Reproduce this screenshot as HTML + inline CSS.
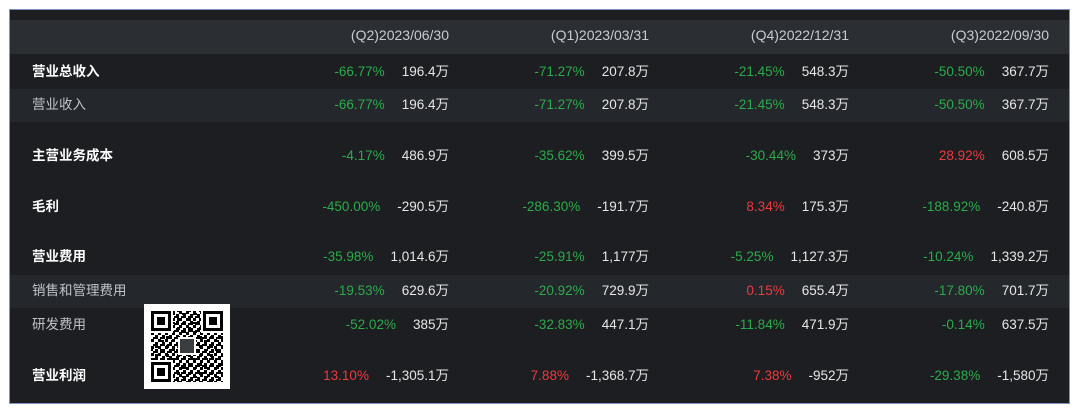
<!DOCTYPE html>
<html><head><meta charset="utf-8"><style>
body{margin:0;width:1080px;height:409px;background:#fff;position:relative;overflow:hidden;font-family:"Liberation Sans","Noto Sans CJK SC",sans-serif;font-size:13.5px}
#f{position:absolute;left:9px;top:9px;width:1059px;height:393px;background:#1c1e21;border:1px solid #7d93c4;}
.band{position:absolute;left:0;width:1059px}
.row{position:absolute;left:0;width:1059px;height:20px;line-height:20px;color:#e6e6e6}
.lab{position:absolute;left:22px;top:0}
.b{font-weight:bold;color:#fff}
.l{color:#bfc3c8}
.c{position:absolute;top:0;white-space:nowrap;display:flex;gap:17px;transform:translateX(-100%)}
.g{color:#2bab4a}.r{color:#ec3a3f}
.h{color:#c8ccd0;font-size:14px}
</style></head><body>
<div id="f">
<div class="band" style="top:10px;height:34px;background:#2b2f33"></div>
<div class="band" style="top:79px;height:33px;background:#24272b"></div>
<div class="band" style="top:265px;height:33px;background:#24272b"></div>

<div class="row h" style="top:15px"><span class="c" style="left:439px">(Q2)2023/06/30</span><span class="c" style="left:639px">(Q1)2023/03/31</span><span class="c" style="left:839px">(Q4)2022/12/31</span><span class="c" style="left:1039px">(Q3)2022/09/30</span></div>

<div class="row" style="top:52px"><span class="lab b">营业总收入</span>
<span class="c" style="left:439px"><span class="g">-66.77%</span><span>196.4万</span></span>
<span class="c" style="left:639px"><span class="g">-71.27%</span><span>207.8万</span></span>
<span class="c" style="left:839px"><span class="g">-21.45%</span><span>548.3万</span></span>
<span class="c" style="left:1039px"><span class="g">-50.50%</span><span>367.7万</span></span></div>

<div class="row" style="top:85px"><span class="lab l">营业收入</span>
<span class="c" style="left:439px"><span class="g">-66.77%</span><span>196.4万</span></span>
<span class="c" style="left:639px"><span class="g">-71.27%</span><span>207.8万</span></span>
<span class="c" style="left:839px"><span class="g">-21.45%</span><span>548.3万</span></span>
<span class="c" style="left:1039px"><span class="g">-50.50%</span><span>367.7万</span></span></div>

<div class="row" style="top:136px"><span class="lab b">主营业务成本</span>
<span class="c" style="left:439px"><span class="g">-4.17%</span><span>486.9万</span></span>
<span class="c" style="left:639px"><span class="g">-35.62%</span><span>399.5万</span></span>
<span class="c" style="left:839px"><span class="g">-30.44%</span><span>373万</span></span>
<span class="c" style="left:1039px"><span class="r">28.92%</span><span>608.5万</span></span></div>

<div class="row" style="top:187px"><span class="lab b">毛利</span>
<span class="c" style="left:439px"><span class="g">-450.00%</span><span>-290.5万</span></span>
<span class="c" style="left:639px"><span class="g">-286.30%</span><span>-191.7万</span></span>
<span class="c" style="left:839px"><span class="r">8.34%</span><span>175.3万</span></span>
<span class="c" style="left:1039px"><span class="g">-188.92%</span><span>-240.8万</span></span></div>

<div class="row" style="top:237px"><span class="lab b">营业费用</span>
<span class="c" style="left:439px"><span class="g">-35.98%</span><span>1,014.6万</span></span>
<span class="c" style="left:639px"><span class="g">-25.91%</span><span>1,177万</span></span>
<span class="c" style="left:839px"><span class="g">-5.25%</span><span>1,127.3万</span></span>
<span class="c" style="left:1039px"><span class="g">-10.24%</span><span>1,339.2万</span></span></div>

<div class="row" style="top:271px"><span class="lab l">销售和管理费用</span>
<span class="c" style="left:439px"><span class="g">-19.53%</span><span>629.6万</span></span>
<span class="c" style="left:639px"><span class="g">-20.92%</span><span>729.9万</span></span>
<span class="c" style="left:839px"><span class="r">0.15%</span><span>655.4万</span></span>
<span class="c" style="left:1039px"><span class="g">-17.80%</span><span>701.7万</span></span></div>

<div class="row" style="top:305px"><span class="lab l">研发费用</span>
<span class="c" style="left:439px"><span class="g">-52.02%</span><span>385万</span></span>
<span class="c" style="left:639px"><span class="g">-32.83%</span><span>447.1万</span></span>
<span class="c" style="left:839px"><span class="g">-11.84%</span><span>471.9万</span></span>
<span class="c" style="left:1039px"><span class="g">-0.14%</span><span>637.5万</span></span></div>

<div class="row" style="top:356px"><span class="lab b">营业利润</span>
<span class="c" style="left:439px"><span class="r">13.10%</span><span>-1,305.1万</span></span>
<span class="c" style="left:639px"><span class="r">7.88%</span><span>-1,368.7万</span></span>
<span class="c" style="left:839px"><span class="r">7.38%</span><span>-952万</span></span>
<span class="c" style="left:1039px"><span class="g">-29.38%</span><span>-1,580万</span></span></div>
</div>

<svg style="position:absolute;left:144px;top:304px" width="86" height="85" viewBox="0 0 86 85">
<defs>
<pattern id="p1" width="7" height="7" patternUnits="userSpaceOnUse"><rect width="3" height="3" fill="#000"/><rect x="4" y="3" width="3" height="4" fill="#000"/><rect x="2" y="5" width="2" height="2" fill="#000"/></pattern>
<pattern id="p2" width="11" height="9" patternUnits="userSpaceOnUse"><rect x="5" y="0" width="4" height="2" fill="#000"/><rect x="0" y="5" width="3" height="3" fill="#000"/></pattern>
</defs>
<rect width="86" height="85" fill="#fff"/>
<rect x="7" y="7" width="72" height="71" fill="url(#p1)"/>
<rect x="7" y="7" width="72" height="71" fill="url(#p2)"/>
<g fill="#fff"><rect x="5" y="5" width="24" height="24"/><rect x="57" y="5" width="24" height="24"/><rect x="5" y="56" width="24" height="24"/></g>
<g fill="none" stroke="#000" stroke-width="3"><rect x="8.5" y="8.5" width="17" height="17"/><rect x="60.5" y="8.5" width="17" height="17"/><rect x="8.5" y="59.5" width="17" height="17"/></g>
<g fill="#000"><rect x="13" y="13" width="8" height="8"/><rect x="65" y="13" width="8" height="8"/><rect x="13" y="64" width="8" height="8"/></g>
<rect x="34" y="33" width="18" height="18" fill="#fff"/>
<rect x="36" y="35" width="14" height="14" fill="#3a3d40"/>
</svg>
</body></html>
